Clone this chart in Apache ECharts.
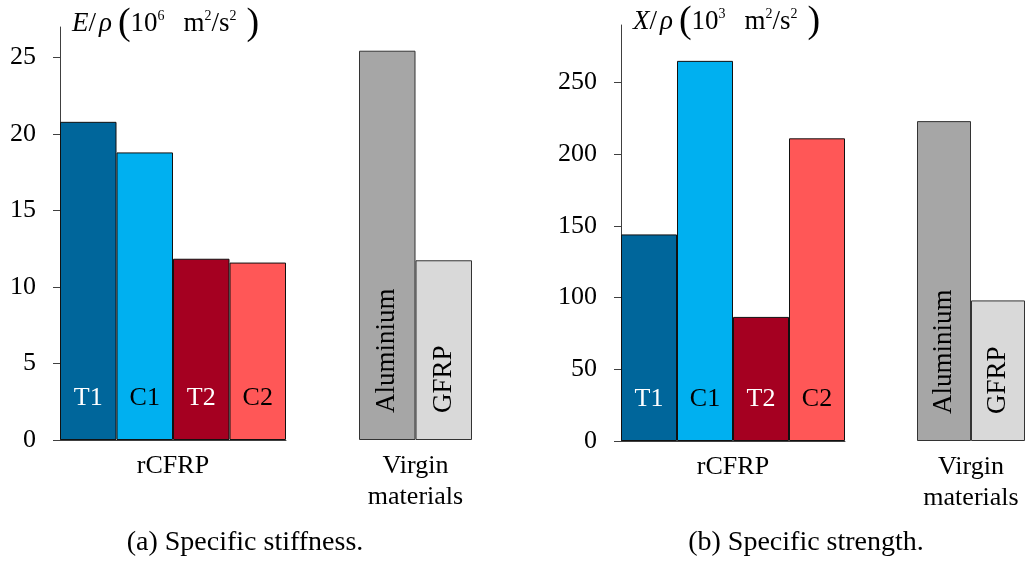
<!DOCTYPE html>
<html><head><meta charset="utf-8">
<script src="https://cdn.jsdelivr.net/npm/echarts@6/dist/echarts.min.js"></script>
<style>html,body{margin:0;padding:0;background:#fff}#c{width:1025px;height:563px}</style>
</head><body><div id="c"></div>
<script>
const rcfrpCats = ['T1', 'C1', 'T2', 'C2'];
const virginCats = ['Aluminium', 'GFRP'];
const stiffRcfrp = [20.8, 18.8, 11.85, 11.6];
const stiffVirgin = [25.45, 11.75];
const strengthRcfrp = [144, 265, 86.5, 211];
const strengthVirgin = [223, 98];
const stiffTicks = [0, 5, 10, 15, 20, 25];
const strengthTicks = [0, 50, 100, 150, 200, 250];
const groupNames = ['rCFRP', 'Virgin\nmaterials'];
const captions = ['(a) Specific stiffness.', '(b) Specific strength.'];

const rcfrpColors = ['#00669b', '#00b0f0', '#a50021', '#ff5757'];
const rcfrpLabelColors = ['#ffffff', '#000000', '#ffffff', '#000000'];
const virginColors = ['#a6a6a6', '#d9d9d9'];

const FONT = 'Liberation Serif';
const AX = '#404040';

const richName = {
  i: { fontFamily: FONT, fontStyle: 'italic', fontSize: 27, color: '#000', lineHeight: 30 },
  n: { fontFamily: FONT, fontSize: 27, color: '#000', lineHeight: 30 },
  g0: { fontFamily: FONT, fontSize: 27, lineHeight: 30, width: 3 },
  g1: { fontFamily: FONT, fontSize: 27, lineHeight: 30, width: 6 },
  g2: { fontFamily: FONT, fontSize: 27, lineHeight: 30, width: 19 },
  g3: { fontFamily: FONT, fontSize: 27, lineHeight: 30, width: 10 },
  p: { fontFamily: FONT, fontSize: 38, color: '#000', lineHeight: 30 },
  s: { fontFamily: FONT, fontSize: 14, color: '#000', verticalAlign: 'top', lineHeight: 22 }
};

function valueAxis(grid, max, interval, ticks, name, show) {
  return {
    type: 'value', gridIndex: grid, min: 0, max: max, interval: interval,
    show: show,
    splitLine: { show: false },
    axisLine: { show: true, lineStyle: { color: AX, width: 1 } },
    axisTick: { show: true, length: 7, inside: false, customValues: ticks, lineStyle: { color: AX } },
    axisLabel: { show: true, customValues: ticks, margin: 24, fontFamily: FONT, fontSize: 26, color: '#000' },
    name: name, nameLocation: 'end', nameGap: 3,
    nameTextStyle: { align: 'left', verticalAlign: 'middle', padding: [0, 0, 0, 12], rich: richName }
  };
}
function catAxis(grid, cats, name, lineShow) {
  return {
    type: 'category', gridIndex: grid, data: cats,
    axisLine: { show: lineShow, lineStyle: { color: AX, width: 1 } },
    axisTick: { show: false }, axisLabel: { show: false },
    name: name, nameLocation: 'middle', nameGap: 11,
    nameTextStyle: { fontFamily: FONT, fontSize: 26, color: '#000', lineHeight: 31, verticalAlign: 'top' }
  };
}
function rcfrpSeries(idx, values) {
  return {
    type: 'bar', xAxisIndex: idx, yAxisIndex: idx, barWidth: '100%', barCategoryGap: '0%',
    data: values.map((v, i) => ({
      value: v,
      itemStyle: { color: rcfrpColors[i], borderColor: '#111', borderWidth: 1 },
      label: { color: rcfrpLabelColors[i] }
    })),
    label: { show: true, position: 'insideBottom', distance: 29, formatter: '{b}', fontFamily: FONT, fontSize: 26 },
    silent: true, animation: false
  };
}
function virginSeries(idx, values) {
  return {
    type: 'bar', xAxisIndex: idx, yAxisIndex: idx, barWidth: '100%', barCategoryGap: '0%',
    data: values.map((v, i) => ({
      value: v,
      itemStyle: { color: virginColors[i], borderColor: '#333', borderWidth: 1 }
    })),
    label: { show: true, position: 'insideBottom', distance: 27, rotate: 90, align: 'left', verticalAlign: 'middle',
      formatter: '{b}', fontFamily: FONT, fontSize: 27, color: '#000' },
    silent: true, animation: false
  };
}

function unitName(sym, exp) {
  return '{i|' + sym + '}{n|/}{g0| }{i|ρ}{g1| }{p|(}{n|10}{s|' + exp + '}{g2| }{n|m}{s|2}{n|/s}{s|2}{g3| }{p|)}';
}

const chart = echarts.init(document.getElementById('c'));
chart.setOption({
  animation: false,
  backgroundColor: '#fff',
  grid: [
    { left: 60, width: 226, top: 27, bottom: 123 },
    { left: 359, width: 113, top: 27, bottom: 123 },
    { left: 621, width: 224, top: 25, bottom: 122 },
    { left: 917, width: 113, top: 25, bottom: 122 }
  ],
  xAxis: [
    catAxis(0, rcfrpCats, groupNames[0], true),
    catAxis(1, virginCats, groupNames[1], false),
    catAxis(2, rcfrpCats, groupNames[0], true),
    catAxis(3, virginCats, groupNames[1], false)
  ],
  yAxis: [
    valueAxis(0, 27, 5, stiffTicks, unitName('E', '6'), true),
    valueAxis(1, 27, 5, stiffTicks, '', false),
    valueAxis(2, 290, 50, strengthTicks, unitName('X', '3'), true),
    valueAxis(3, 290, 50, strengthTicks, '', false)
  ],
  series: [
    rcfrpSeries(0, stiffRcfrp),
    virginSeries(1, stiffVirgin),
    rcfrpSeries(2, strengthRcfrp),
    virginSeries(3, strengthVirgin)
  ],
  graphic: [
    { type: 'text', x: 245, y: 543, style: { text: captions[0], align: 'center', textAlign: 'center', verticalAlign: 'middle', textVerticalAlign: 'middle', font: '28px "Liberation Serif"', fill: '#000' } },
    { type: 'text', x: 806, y: 543, style: { text: captions[1], align: 'center', textAlign: 'center', verticalAlign: 'middle', textVerticalAlign: 'middle', font: '28px "Liberation Serif"', fill: '#000' } }
  ]
});
</script></body></html>
